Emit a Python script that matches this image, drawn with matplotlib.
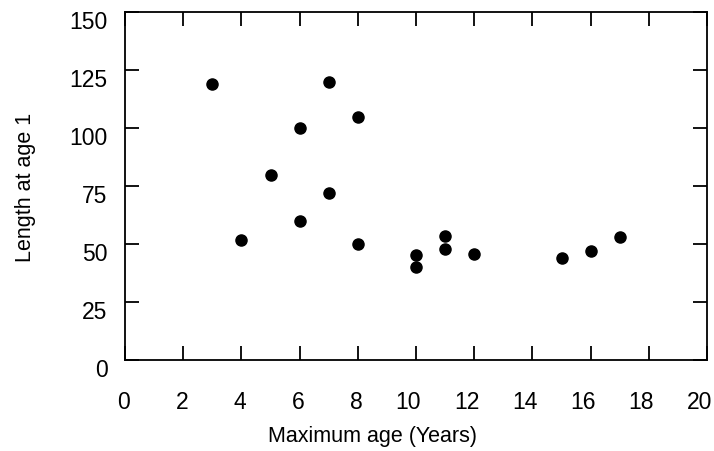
import matplotlib
matplotlib.use('Agg')
import matplotlib.pyplot as plt
from matplotlib.transforms import ScaledTranslation

# max age (years) vs length at age 1
max_age = [3, 4, 5, 6, 6, 7, 7, 8, 8, 10, 10, 11, 11, 12, 15, 16, 17]
length_age1 = [119, 52, 80, 100, 60, 120, 72, 105, 50, 45.5, 40, 53.5, 48, 46, 44, 47, 53]

x_ticks = list(range(0, 21, 2))
y_ticks = [0, 25, 50, 75, 100, 125, 150]

plt.rcParams['font.family'] = ['Liberation Sans', 'DejaVu Sans']

fig = plt.figure(figsize=(7.14, 4.52), dpi=100)
ax = fig.add_axes([0.1752, 0.2007, 0.8150, 0.7699])

ax.plot(max_age, length_age1, 'o', color='black', markersize=8)

ax.set_xlim(0, 20)
ax.set_ylim(0, 150)
ax.set_xticks(x_ticks)
ax.set_yticks(y_ticks)

for s in ax.spines.values():
    s.set_linewidth(1.3)

ax.tick_params(axis='both', direction='in', length=10, width=1.3,
               top=True, right=True, labelsize=16.5)
ax.tick_params(axis='x', pad=21.5)
ax.tick_params(axis='y', pad=12.5)

# tick labels sit a little off their ticks in the original
off_y = ScaledTranslation(0, -7 / 100, fig.dpi_scale_trans)
for lab in ax.get_yticklabels():
    lab.set_transform(lab.get_transform() + off_y)
off_x = ScaledTranslation(5 / 100, 0, fig.dpi_scale_trans)
for lab in ax.get_xticklabels():
    lab.set_horizontalalignment('right')
    lab.set_transform(lab.get_transform() + off_x)

ax.set_xlabel('Maximum age (Years)', fontsize=15.5, va='center')
ax.xaxis.set_label_coords(0.426, -0.2175)
ax.set_ylabel('Length at age 1', fontsize=15.5, va='center')
ax.yaxis.set_label_coords(-0.172, 0.5)

plt.savefig('out.png', dpi=100)
